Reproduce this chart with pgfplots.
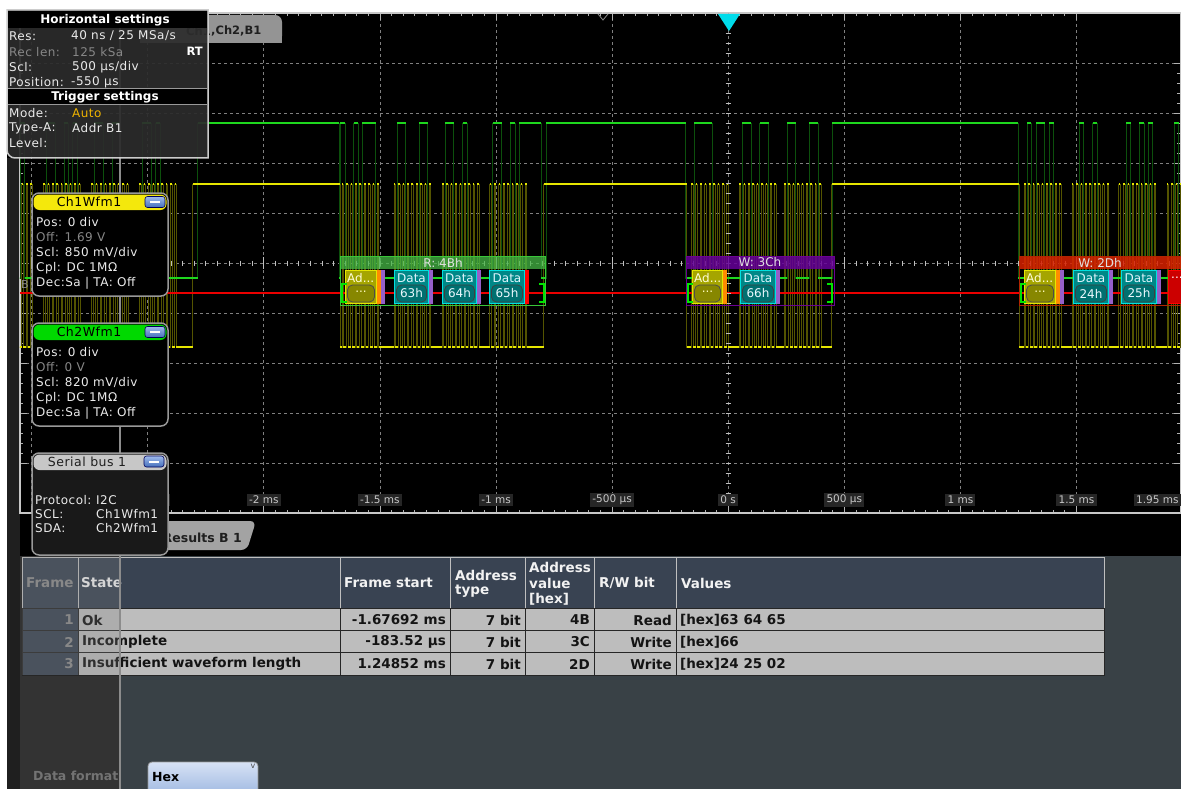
\documentclass[border=0pt]{standalone}
\usepackage{pgfplots}
\pgfplotsset{compat=1.18}
\usepackage{pgfplotstable}
\usepackage{fontspec}
\setmainfont{DejaVu Sans}
\newfontfamily\uif{DejaVu Sans}[LetterSpace=4]

\definecolor{scy}{RGB}{230,230,0}
\definecolor{olv}{RGB}{84,84,0}
\definecolor{sgr}{RGB}{30,215,30}
\definecolor{dgr}{RGB}{12,80,12}
\definecolor{busred}{RGB}{235,0,0}
\definecolor{slate}{RGB}{57,65,70}
\definecolor{thead}{RGB}{57,67,82}
\definecolor{trow}{RGB}{189,189,189}
\definecolor{tealf}{RGB}{0,135,135}
\definecolor{tealp}{RGB}{0,112,112}
\definecolor{cyanb}{RGB}{0,225,225}
\definecolor{adf}{RGB}{165,165,0}
\definecolor{adp}{RGB}{135,135,0}
\definecolor{pur}{RGB}{150,95,200}
\definecolor{orng}{RGB}{255,140,0}
\definecolor{boxbg}{RGB}{44,44,44}
\definecolor{trig}{RGB}{0,220,235}
\definecolor{uiw}{RGB}{235,235,235}
\definecolor{uig}{RGB}{135,135,135}
\definecolor{btn}{RGB}{80,130,220}
\definecolor{lblbox}{RGB}{38,38,38}
\definecolor{hexb}{RGB}{150,178,222}
\definecolor{hext}{RGB}{215,226,245}

% SCL (Ch1) edges, time in ms, level in div
\pgfplotstableread[row sep=\\]{
t y\\
-3.06 -1.68\\ -3.043 1.58\\ -3.036 -1.68\\ -3.024 1.58\\ -3.017 -1.68\\ -3.005 1.58\\ -2.998 -1.68\\
-2.950 1.58\\ -2.943 -1.68\\ -2.931 1.58\\ -2.924 -1.68\\ -2.912 1.58\\ -2.905 -1.68\\ -2.893 1.58\\ -2.886 -1.68\\ -2.874 1.58\\ -2.867 -1.68\\ -2.855 1.58\\ -2.848 -1.68\\ -2.836 1.58\\ -2.829 -1.68\\ -2.817 1.58\\ -2.810 -1.68\\ -2.798 1.58\\ -2.791 -1.68\\
-2.743 1.58\\ -2.736 -1.68\\ -2.724 1.58\\ -2.717 -1.68\\ -2.705 1.58\\ -2.698 -1.68\\ -2.686 1.58\\ -2.679 -1.68\\ -2.667 1.58\\ -2.660 -1.68\\ -2.648 1.58\\ -2.641 -1.68\\ -2.629 1.58\\ -2.622 -1.68\\ -2.610 1.58\\ -2.603 -1.68\\ -2.591 1.58\\ -2.584 -1.68\\
-2.536 1.58\\ -2.529 -1.68\\ -2.517 1.58\\ -2.510 -1.68\\ -2.498 1.58\\ -2.491 -1.68\\ -2.479 1.58\\ -2.472 -1.68\\ -2.460 1.58\\ -2.453 -1.68\\ -2.441 1.58\\ -2.434 -1.68\\ -2.422 1.58\\ -2.415 -1.68\\ -2.403 1.58\\ -2.396 -1.68\\ -2.384 1.58\\ -2.377 -1.68\\
-2.306 1.58\\ -1.672 -1.68\\
-1.664 1.58\\ -1.657 -1.68\\ -1.645 1.58\\ -1.638 -1.68\\ -1.626 1.58\\ -1.619 -1.68\\ -1.607 1.58\\ -1.600 -1.68\\ -1.588 1.58\\ -1.581 -1.68\\ -1.569 1.58\\ -1.562 -1.68\\ -1.550 1.58\\ -1.543 -1.68\\ -1.531 1.58\\ -1.524 -1.68\\ -1.512 1.58\\ -1.505 -1.68\\
-1.440 1.58\\ -1.433 -1.68\\ -1.421 1.58\\ -1.414 -1.68\\ -1.402 1.58\\ -1.395 -1.68\\ -1.383 1.58\\ -1.376 -1.68\\ -1.364 1.58\\ -1.357 -1.68\\ -1.345 1.58\\ -1.338 -1.68\\ -1.326 1.58\\ -1.319 -1.68\\ -1.307 1.58\\ -1.300 -1.68\\ -1.288 1.58\\ -1.281 -1.68\\
-1.233 1.58\\ -1.226 -1.68\\ -1.214 1.58\\ -1.207 -1.68\\ -1.195 1.58\\ -1.188 -1.68\\ -1.176 1.58\\ -1.169 -1.68\\ -1.157 1.58\\ -1.150 -1.68\\ -1.138 1.58\\ -1.131 -1.68\\ -1.119 1.58\\ -1.112 -1.68\\ -1.100 1.58\\ -1.093 -1.68\\ -1.081 1.58\\ -1.074 -1.68\\
-1.027 1.58\\ -1.020 -1.68\\ -1.008 1.58\\ -1.001 -1.68\\ -0.989 1.58\\ -0.982 -1.68\\ -0.970 1.58\\ -0.963 -1.68\\ -0.951 1.58\\ -0.944 -1.68\\ -0.932 1.58\\ -0.925 -1.68\\ -0.913 1.58\\ -0.906 -1.68\\ -0.894 1.58\\ -0.887 -1.68\\ -0.875 1.58\\ -0.868 -1.68\\
-0.795 1.58\\ -0.179 -1.68\\
-0.159 1.58\\ -0.152 -1.68\\ -0.140 1.58\\ -0.133 -1.68\\ -0.121 1.58\\ -0.114 -1.68\\ -0.102 1.58\\ -0.095 -1.68\\ -0.083 1.58\\ -0.076 -1.68\\ -0.064 1.58\\ -0.057 -1.68\\ -0.045 1.58\\ -0.038 -1.68\\ -0.026 1.58\\ -0.019 -1.68\\ -0.007 1.58\\ 0.000 -1.68\\
0.047 1.58\\ 0.054 -1.68\\ 0.066 1.58\\ 0.073 -1.68\\ 0.085 1.58\\ 0.092 -1.68\\ 0.104 1.58\\ 0.111 -1.68\\ 0.123 1.58\\ 0.130 -1.68\\ 0.142 1.58\\ 0.149 -1.68\\ 0.161 1.58\\ 0.168 -1.68\\ 0.180 1.58\\ 0.187 -1.68\\ 0.199 1.58\\ 0.206 -1.68\\
0.240 1.58\\ 0.247 -1.68\\ 0.259 1.58\\ 0.266 -1.68\\ 0.278 1.58\\ 0.285 -1.68\\ 0.297 1.58\\ 0.304 -1.68\\ 0.316 1.58\\ 0.323 -1.68\\ 0.335 1.58\\ 0.342 -1.68\\ 0.354 1.58\\ 0.361 -1.68\\ 0.373 1.58\\ 0.380 -1.68\\ 0.392 1.58\\ 0.399 -1.68\\
0.445 1.58\\ 1.253 -1.68\\
1.274 1.58\\ 1.281 -1.68\\ 1.293 1.58\\ 1.300 -1.68\\ 1.312 1.58\\ 1.319 -1.68\\ 1.331 1.58\\ 1.338 -1.68\\ 1.350 1.58\\ 1.357 -1.68\\ 1.369 1.58\\ 1.376 -1.68\\ 1.388 1.58\\ 1.395 -1.68\\ 1.407 1.58\\ 1.414 -1.68\\ 1.426 1.58\\ 1.433 -1.68\\
1.480 1.58\\ 1.487 -1.68\\ 1.499 1.58\\ 1.506 -1.68\\ 1.518 1.58\\ 1.525 -1.68\\ 1.537 1.58\\ 1.544 -1.68\\ 1.556 1.58\\ 1.563 -1.68\\ 1.575 1.58\\ 1.582 -1.68\\ 1.594 1.58\\ 1.601 -1.68\\ 1.613 1.58\\ 1.620 -1.68\\ 1.632 1.58\\ 1.639 -1.68\\
1.682 1.58\\ 1.689 -1.68\\ 1.701 1.58\\ 1.708 -1.68\\ 1.720 1.58\\ 1.727 -1.68\\ 1.739 1.58\\ 1.746 -1.68\\ 1.758 1.58\\ 1.765 -1.68\\ 1.777 1.58\\ 1.784 -1.68\\ 1.796 1.58\\ 1.803 -1.68\\ 1.815 1.58\\ 1.822 -1.68\\ 1.834 1.58\\ 1.841 -1.68\\
1.889 1.58\\ 1.896 -1.68\\ 1.908 1.58\\ 1.915 -1.68\\ 1.927 1.58\\ 1.934 -1.68\\ 1.946 1.58\\ 1.953 -1.68\\ 1.98 -1.68\\
}\scl

% SDA (Ch2) level changes
\pgfplotstableread[row sep=\\]{
t y\\
-3.06 -0.3\\ -3.049 2.8\\ -3.030 -0.3\\
-2.937 2.8\\ -2.899 -0.3\\ -2.861 2.8\\ -2.842 -0.3\\ -2.823 2.8\\ -2.804 -0.3\\
-2.730 2.8\\ -2.692 -0.3\\ -2.654 2.8\\ -2.616 -0.3\\
-2.523 2.8\\ -2.485 -0.3\\ -2.466 2.8\\ -2.447 -0.3\\
-2.285 2.8\\ -1.677 -0.3\\
-1.670 2.8\\ -1.651 -0.3\\ -1.613 2.8\\ -1.594 -0.3\\ -1.575 2.8\\ -1.518 -0.3\\
-1.427 2.8\\ -1.389 -0.3\\ -1.332 2.8\\ -1.294 -0.3\\
-1.220 2.8\\ -1.182 -0.3\\ -1.144 2.8\\ -1.125 -0.3\\
-1.014 2.8\\ -0.976 -0.3\\ -0.938 2.8\\ -0.919 -0.3\\ -0.900 2.8\\ -0.805 -0.3\\
-0.785 2.8\\ -0.1835 -0.3\\
-0.146 2.8\\ -0.070 -0.3\\
0.060 2.8\\ 0.098 -0.3\\ 0.136 2.8\\ 0.174 -0.3\\
0.253 2.8\\ 0.291 -0.3\\ 0.348 2.8\\ 0.386 -0.3\\
0.449 2.8\\ 1.2485 -0.3\\
1.287 2.8\\ 1.306 -0.3\\ 1.325 2.8\\ 1.363 -0.3\\ 1.382 2.8\\ 1.401 -0.3\\
1.512 2.8\\ 1.531 -0.3\\ 1.569 2.8\\ 1.588 -0.3\\
1.714 2.8\\ 1.733 -0.3\\ 1.771 2.8\\ 1.790 -0.3\\ 1.809 2.8\\ 1.828 -0.3\\
1.921 2.8\\ 1.940 -0.3\\ 1.98 -0.3\\
}\sda

\tikzset{
  ui/.style={font=\uif\fontsize{12}{14}\selectfont, inner sep=0pt, anchor=west, text=uiw},
  uig/.style={ui, text=uig},
  tb/.style={font=\bfseries\fontsize{13.5}{15}\selectfont, inner sep=0pt, text=black!92},
  th/.style={font=\bfseries\fontsize{13.5}{15}\selectfont, inner sep=0pt, anchor=west, text=white!95!black},
  dec/.style={font=\fontsize{12}{13}\selectfont, inner sep=0pt},
  tl/.style={font=\fontsize{10.5}{12}\selectfont, fill=lblbox, text=black!22, inner sep=2.2pt},
}

\newcommand\dbox[3]{%
  \fill[tealf] (#1,270) rectangle (#2,304);
  \draw[cyanb, line width=1.3pt] (#1+0.6,270.6) rectangle (#2-0.6,303.4);
  \node[dec, text=cyan!12!white] at ({(#1+#2)/2},278) {Data};
  \draw[fill=tealp, draw=black!75, line width=0.8pt, rounded corners=5pt] (#1+2.5,285) rectangle (#2-2.5,302);
  \node[dec, text=cyan!8!white] at ({(#1+#2)/2},293.5) {#3};
}
\newcommand\abox[2]{%
  \fill[adf] (#1,270) rectangle (#2,304);
  \draw[scy, line width=1.3pt] (#1+0.6,270.6) rectangle (#2-0.6,303.4);
  \node[dec, text=yellow!15!white, anchor=west] at (#1+2,278) {Ad...};
  \draw[fill=adp, draw=black!70, line width=0.8pt, rounded corners=5pt] (#1+2.5,285) rectangle (#2-2.5,302);
  \node[dec, text=yellow!25!white] at ({(#1+#2)/2},292) {...};
}
\newcommand\lbr[1]{\draw[green!90!black, line width=1.8pt] (#1+5,284) -- (#1,284) -- (#1,302) -- (#1+5,302);}
\newcommand\rbr[1]{\draw[green!90!black, line width=1.8pt] (#1-5,284) -- (#1,284) -- (#1,302) -- (#1-5,302);}
\newcommand\btn[2]{%
  \draw[rounded corners=2.5pt, top color=btn!55!white, bottom color=btn!85!black, draw=blue!35!black, line width=0.6pt] (#1,#2) rectangle (#1+20,#2+11);
  \fill[white] (#1+5,#2+4.5) rectangle (#1+15,#2+6.8);
}

\begin{document}
\begin{tikzpicture}
\path[use as bounding box] (0pt,0pt) rectangle (1181pt,-789pt);
\begin{scope}[x=1pt,y=-1pt]
  \fill[black] (0,0) rectangle (1181,789);
  \fill[white] (0,0) rectangle (1181,12);
  \fill[white] (0,0) rectangle (7,789);
  \fill[black!88] (7,158) rectangle (20,789);
  \fill[slate] (20,556) rectangle (1181,789);
  \fill[black!80] (20,556) rectangle (119,789);
\end{scope}

\begin{axis}[
  at={(20pt,-513pt)}, anchor=south west,
  scale only axis, width=1161pt, height=500pt,
  xmin=-3.05, xmax=1.95, ymin=-5, ymax=5,
  axis line style={draw=black!22, line width=1.2pt},
  xtick={-3,-2.5,...,1.5}, ytick={-4,-3,...,4},
  minor x tick num=9, minor y tick num=4,
  xticklabel=\empty, yticklabel=\empty,
  tick align=inside, major tick length=7pt, minor tick length=3.5pt,
  tick style={black!30, line width=0.8pt},
  grid=major,
  major grid style={dash pattern=on 3pt off 3pt, black!50, line width=0.8pt},
  extra x ticks={0}, extra y ticks={0},
  extra tick style={grid style={solid, black!25, line width=1.1pt}, xticklabel=\empty, yticklabel=\empty},
  clip=true,
]
  \addplot[const plot, dgr, line width=0.55pt] table[x=t,y=y] {\sda};
  \addplot[const plot, olv, line width=0.55pt] table[x=t,y=y] {\scl};
  \addplot[busred, line width=2.6pt] coordinates {(-3.05,-0.6) (1.95,-0.6)};
  \addplot[jump mark left, sgr, line width=2.2pt] table[x=t,y=y] {\sda};
  \addplot[jump mark left, scy, line width=2.2pt] table[x=t,y=y] {\scl};
\end{axis}

\begin{scope}[x=1pt,y=-1pt]
  % centre-line ticks
  \foreach \i in {-60,...,38} {\draw[black!25, line width=0.7pt] ({728.2+11.61*\i},260.5) -- ({728.2+11.61*\i},265.5);}
  \foreach \i in {-6,...,3} {\draw[black!25, line width=0.9pt] ({728.2+116.1*\i},257) -- ({728.2+116.1*\i},269);}
  \foreach \j in {-24,...,24} {\draw[black!25, line width=0.7pt] (725.7,263+10*\j) -- (730.7,263+10*\j);}

  % ---- decoded frames ----
  % frame 1
  \fill[green!45!gray, opacity=0.75] (340,256) rectangle (545,269);
  \node[dec, text=black!12] at (443,262.5) {R: 4Bh};
  \draw[green!55!gray, line width=1pt] (340,256) rectangle (545,305);
  \abox{345}{377}
  \fill[orng] (377,270) rectangle (381,304);
  \fill[pur] (381,270) rectangle (385,304);
  \dbox{394}{429}{63h}
  \fill[pur] (429,270) rectangle (433,304);
  \dbox{442}{477}{64h}
  \fill[pur] (477,270) rectangle (481,304);
  \dbox{489}{525}{65h}
  \fill[red] (525,270) rectangle (529,304);
  \lbr{342} \rbr{544}
  % frame 2
  \fill[violet!80!blue, opacity=0.85] (686,256) rectangle (834,269);
  \node[dec, text=black!12] at (760,262.5) {W: 3Ch};
  \draw[violet!85!blue, line width=1pt] (686,256) rectangle (834,305);
  \abox{692}{723}
  \fill[orng] (723,270) rectangle (727,304);
  \dbox{740}{776}{66h}
  \fill[pur] (776,270) rectangle (780,304);
  \lbr{688} \rbr{832}
  % frame 3
  \fill[red!70!orange!85!black, opacity=0.85] (1019,256) rectangle (1185,269);
  \node[dec, text=black!12] at (1100,262.5) {W: 2Dh};
  \draw[red!60!orange!70!black, line width=1pt] (1019,256) rectangle (1190,305);
  \abox{1024}{1056}
  \fill[orng] (1056,270) rectangle (1060,304);
  \fill[pur] (1060,270) rectangle (1064,304);
  \dbox{1073}{1109}{24h}
  \fill[pur] (1109,270) rectangle (1113,304);
  \dbox{1121}{1157}{25h}
  \fill[pur] (1157,270) rectangle (1161,304);
  \fill[red!80!black] (1168,270) rectangle (1185,304);
  \draw[red, line width=1.3pt] (1168.6,270.6) rectangle (1185,303.4);
  \node[dec, text=white, anchor=west] at (1171,278) {...};
  \lbr{1021}
  \node[font=\fontsize{11}{12}\selectfont, text=black!45, inner sep=0pt] at (25,284) {B};

  % time labels
  \node[tl] at (147.7,500) {-2.5 ms};
  \node[tl] at (263.8,500) {-2 ms};
  \node[tl] at (379.9,500) {-1.5 ms};
  \node[tl] at (496,500) {-1 ms};
  \node[tl] at (612.1,500) {-500 µs};
  \node[tl] at (728.2,500) {0 s};
  \node[tl] at (844.3,500) {500 µs};
  \node[tl] at (960.4,500) {1 ms};
  \node[tl] at (1076.5,500) {1.5 ms};
  \node[tl, anchor=east] at (1181,500) {1.95 ms};

  % trigger marker
  \fill[trig] (718,14) -- (740,14) -- (729,31) -- cycle;
  \draw[black!45, line width=0.8pt] (598,14) -- (603,20) -- (608,14);

  % tab top
  \fill[black!42, rounded corners=7pt] (140,43) -- (140,15) -- (282,15) -- (282,43) -- cycle;
  \fill[black!42] (140,30) rectangle (282,43);
  \node[font=\bfseries\fontsize{11.5}{13}\selectfont, text=black!88, inner sep=0pt, anchor=west] at (211,31) {,Ch2,B1};
  \node[font=\bfseries\fontsize{11.5}{13}\selectfont, text=black!88, inner sep=0pt, anchor=east] at (211,31) {Ch1};

  % vertical divider
  \draw[black!45, line width=2pt] (120,12) -- (120,789);

  % Results tab
  \fill[black!36, rounded corners=6pt] (125,550) -- (125,521) -- (256,521) -- (247,550) -- cycle;
  \node[font=\bfseries\fontsize{12.5}{14}\selectfont, text=black!88, inner sep=0pt, anchor=east] at (242,538) {Results B 1};

  % ---- horizontal settings box ----
  \filldraw[fill=boxbg, fill opacity=0.93, draw=black!20, line width=1.5pt]
     (7,10) -- (208,10) -- (208,158) [rounded corners=8pt] -- (7,158) [sharp corners] -- cycle;
  \fill[black] (8,11) rectangle (207,28);
  \node[font=\bfseries\fontsize{12}{14}\selectfont, text=white, inner sep=0pt] at (105,20) {Horizontal settings};
  \draw[black!40, line width=0.8pt] (8,88.5) -- (207,88.5);
  \fill[black] (8,89.5) rectangle (207,104);
  \node[font=\bfseries\fontsize{12}{14}\selectfont, text=white, inner sep=0pt] at (105,97) {Trigger settings};
  \draw[black!40, line width=0.8pt] (8,104.5) -- (207,104.5);
  \node[ui] at (9,36) {Res:};
  \node[ui] at (71,36) {40 ns / 25 MSa/s};
  \node[uig] at (9,52) {Rec len:};
  \node[uig] at (72,52) {125 kSa};
  \node[font=\bfseries\fontsize{11.5}{13}\selectfont, text=white, inner sep=0pt, anchor=east] at (203,51) {RT};
  \node[ui] at (9,67) {Scl:};
  \node[ui] at (72,67) {500 µs/div};
  \node[ui] at (9,82) {Position:};
  \node[ui] at (71,82) {-550 µs};
  \node[ui] at (9,113) {Mode:};
  \node[ui, text={rgb,255:red,240;green,180;blue,0}] at (72,113) {Auto};
  \node[ui] at (9,128) {Type-A:};
  \node[ui] at (72,128) {Addr B1};
  \node[ui] at (9,143) {Level:};

  % ---- Ch1 box ----
  \draw[rounded corners=7pt, fill=black, draw=black!40, line width=1.5pt] (32,193) rectangle (168,296);
  \fill[yellow!95!black, rounded corners=6pt] (33.5,194.5) rectangle (166.5,210);
  \node[font=\uif\fontsize{12.5}{14}\selectfont, text=black, inner sep=0pt] at (89,202) {Ch1Wfm1};
  \btn{145}{196.5}
  \node[ui] at (36,222) {Pos: 0 div};
  \node[uig] at (36,237) {Off: 1.69 V};
  \node[ui] at (36,252) {Scl: 850 mV/div};
  \node[ui] at (36,268) {Cpl: DC 1MΩ};
  \node[ui] at (36,283) {Dec:Sa | TA: Off};

  % ---- Ch2 box ----
  \draw[rounded corners=7pt, fill=black, draw=black!40, line width=1.5pt] (32,323) rectangle (168,426);
  \fill[green!85!black, rounded corners=6pt] (33.5,324.5) rectangle (166.5,340);
  \node[font=\uif\fontsize{12.5}{14}\selectfont, text=black, inner sep=0pt] at (89,332) {Ch2Wfm1};
  \btn{145}{326.5}
  \node[ui] at (36,352) {Pos: 0 div};
  \node[uig] at (36,367) {Off: 0 V};
  \node[ui] at (36,382) {Scl: 820 mV/div};
  \node[ui] at (36,398) {Cpl: DC 1MΩ};
  \node[ui] at (36,413) {Dec:Sa | TA: Off};

  % ---- Serial bus box ----
  \draw[rounded corners=7pt, fill=black!90, draw=black!40, line width=1.5pt] (32,453) rectangle (168,555);
  \fill[black!22, rounded corners=6pt] (33.5,454.5) rectangle (166.5,470);
  \node[font=\uif\fontsize{12.5}{14}\selectfont, text=black!88, inner sep=0pt] at (87,462) {Serial bus 1};
  \btn{144}{456}
  \node[ui] at (35,500) {Protocol:};
  \node[ui] at (96,500) {I2C};
  \node[ui] at (35,514) {SCL:};
  \node[ui] at (96,514) {Ch1Wfm1};
  \node[ui] at (35,528) {SDA:};
  \node[ui] at (96,528) {Ch2Wfm1};

  % ---- table ----
  \foreach \a/\b in {22/78,78/340,340/450,450/525,525/594,594/676,676/1104}
    {\draw[fill=thead, draw=black!25, line width=1pt] (\a,557) rectangle (\b,608);}
  \foreach \r/\s in {608/630,630/652,652/675}{
    \draw[fill=thead, draw=black!85, line width=1pt] (22,\r) rectangle (78,\s);
    \foreach \a/\b in {78/340,340/450,450/525,525/594,594/676,676/1104}
      {\draw[fill=trow, draw=black!85, line width=1pt] (\a,\r) rectangle (\b,\s);}
  }
  \node[th, text=black!45] at (26,583) {Frame};
  \node[th] at (81,583) {State};
  \node[th] at (344,583) {Frame start};
  \node[th] at (455,575) {Address};
  \node[th] at (455,591) {type};
  \node[th] at (529,567) {Address};
  \node[th] at (529,583) {value};
  \node[th] at (529,599) {[hex]};
  \node[th] at (599,583) {R/W bit};
  \node[th] at (681,583) {Values};
  % row 1
  \node[tb, text=black!45, anchor=east] at (74,620) {1};
  \node[tb, anchor=west] at (82,620) {Ok};
  \node[tb, anchor=east] at (446,620) {-1.67692 ms};
  \node[tb, anchor=east] at (521,620) {7 bit};
  \node[tb, anchor=east] at (590,620) {4B};
  \node[tb, anchor=east] at (672,620) {Read};
  \node[tb, anchor=west] at (680,620) {[hex]63 64 65};
  % row 2
  \node[tb, text=black!45, anchor=east] at (74,642) {2};
  \node[tb, anchor=west] at (82,642) {Incomplete};
  \node[tb, anchor=east] at (446,642) {-183.52 µs};
  \node[tb, anchor=east] at (521,642) {7 bit};
  \node[tb, anchor=east] at (590,642) {3C};
  \node[tb, anchor=east] at (672,642) {Write};
  \node[tb, anchor=west] at (680,642) {[hex]66};
  % row 3
  \node[tb, text=black!45, anchor=east] at (74,664) {3};
  \node[tb, anchor=west] at (82,664) {Insufficient waveform length};
  \node[tb, anchor=east] at (446,664) {1.24852 ms};
  \node[tb, anchor=east] at (521,664) {7 bit};
  \node[tb, anchor=east] at (590,664) {2D};
  \node[tb, anchor=east] at (672,664) {Write};
  \node[tb, anchor=west] at (680,664) {[hex]24 25 02};
  % left band overlay
  \fill[black!50, opacity=0.25] (22,557) rectangle (119,675);
  \draw[black!45, line width=2pt] (120,556) -- (120,789);

  % data format
  \node[font=\bfseries\fontsize{12.5}{14}\selectfont, text=black!55, inner sep=0pt, anchor=west] at (33,776) {Data format};
  \draw[rounded corners=4pt, top color=hext, bottom color=hexb, draw=black!40, line width=0.8pt] (148,762) rectangle (258,800);
  \node[font=\bfseries\fontsize{12.5}{14}\selectfont, text=black, inner sep=0pt, anchor=west] at (152,777) {Hex};
  \node[font=\fontsize{8}{9}\selectfont, text=black!70, inner sep=0pt] at (253,766) {v};
\end{scope}
\end{tikzpicture}
\end{document}
